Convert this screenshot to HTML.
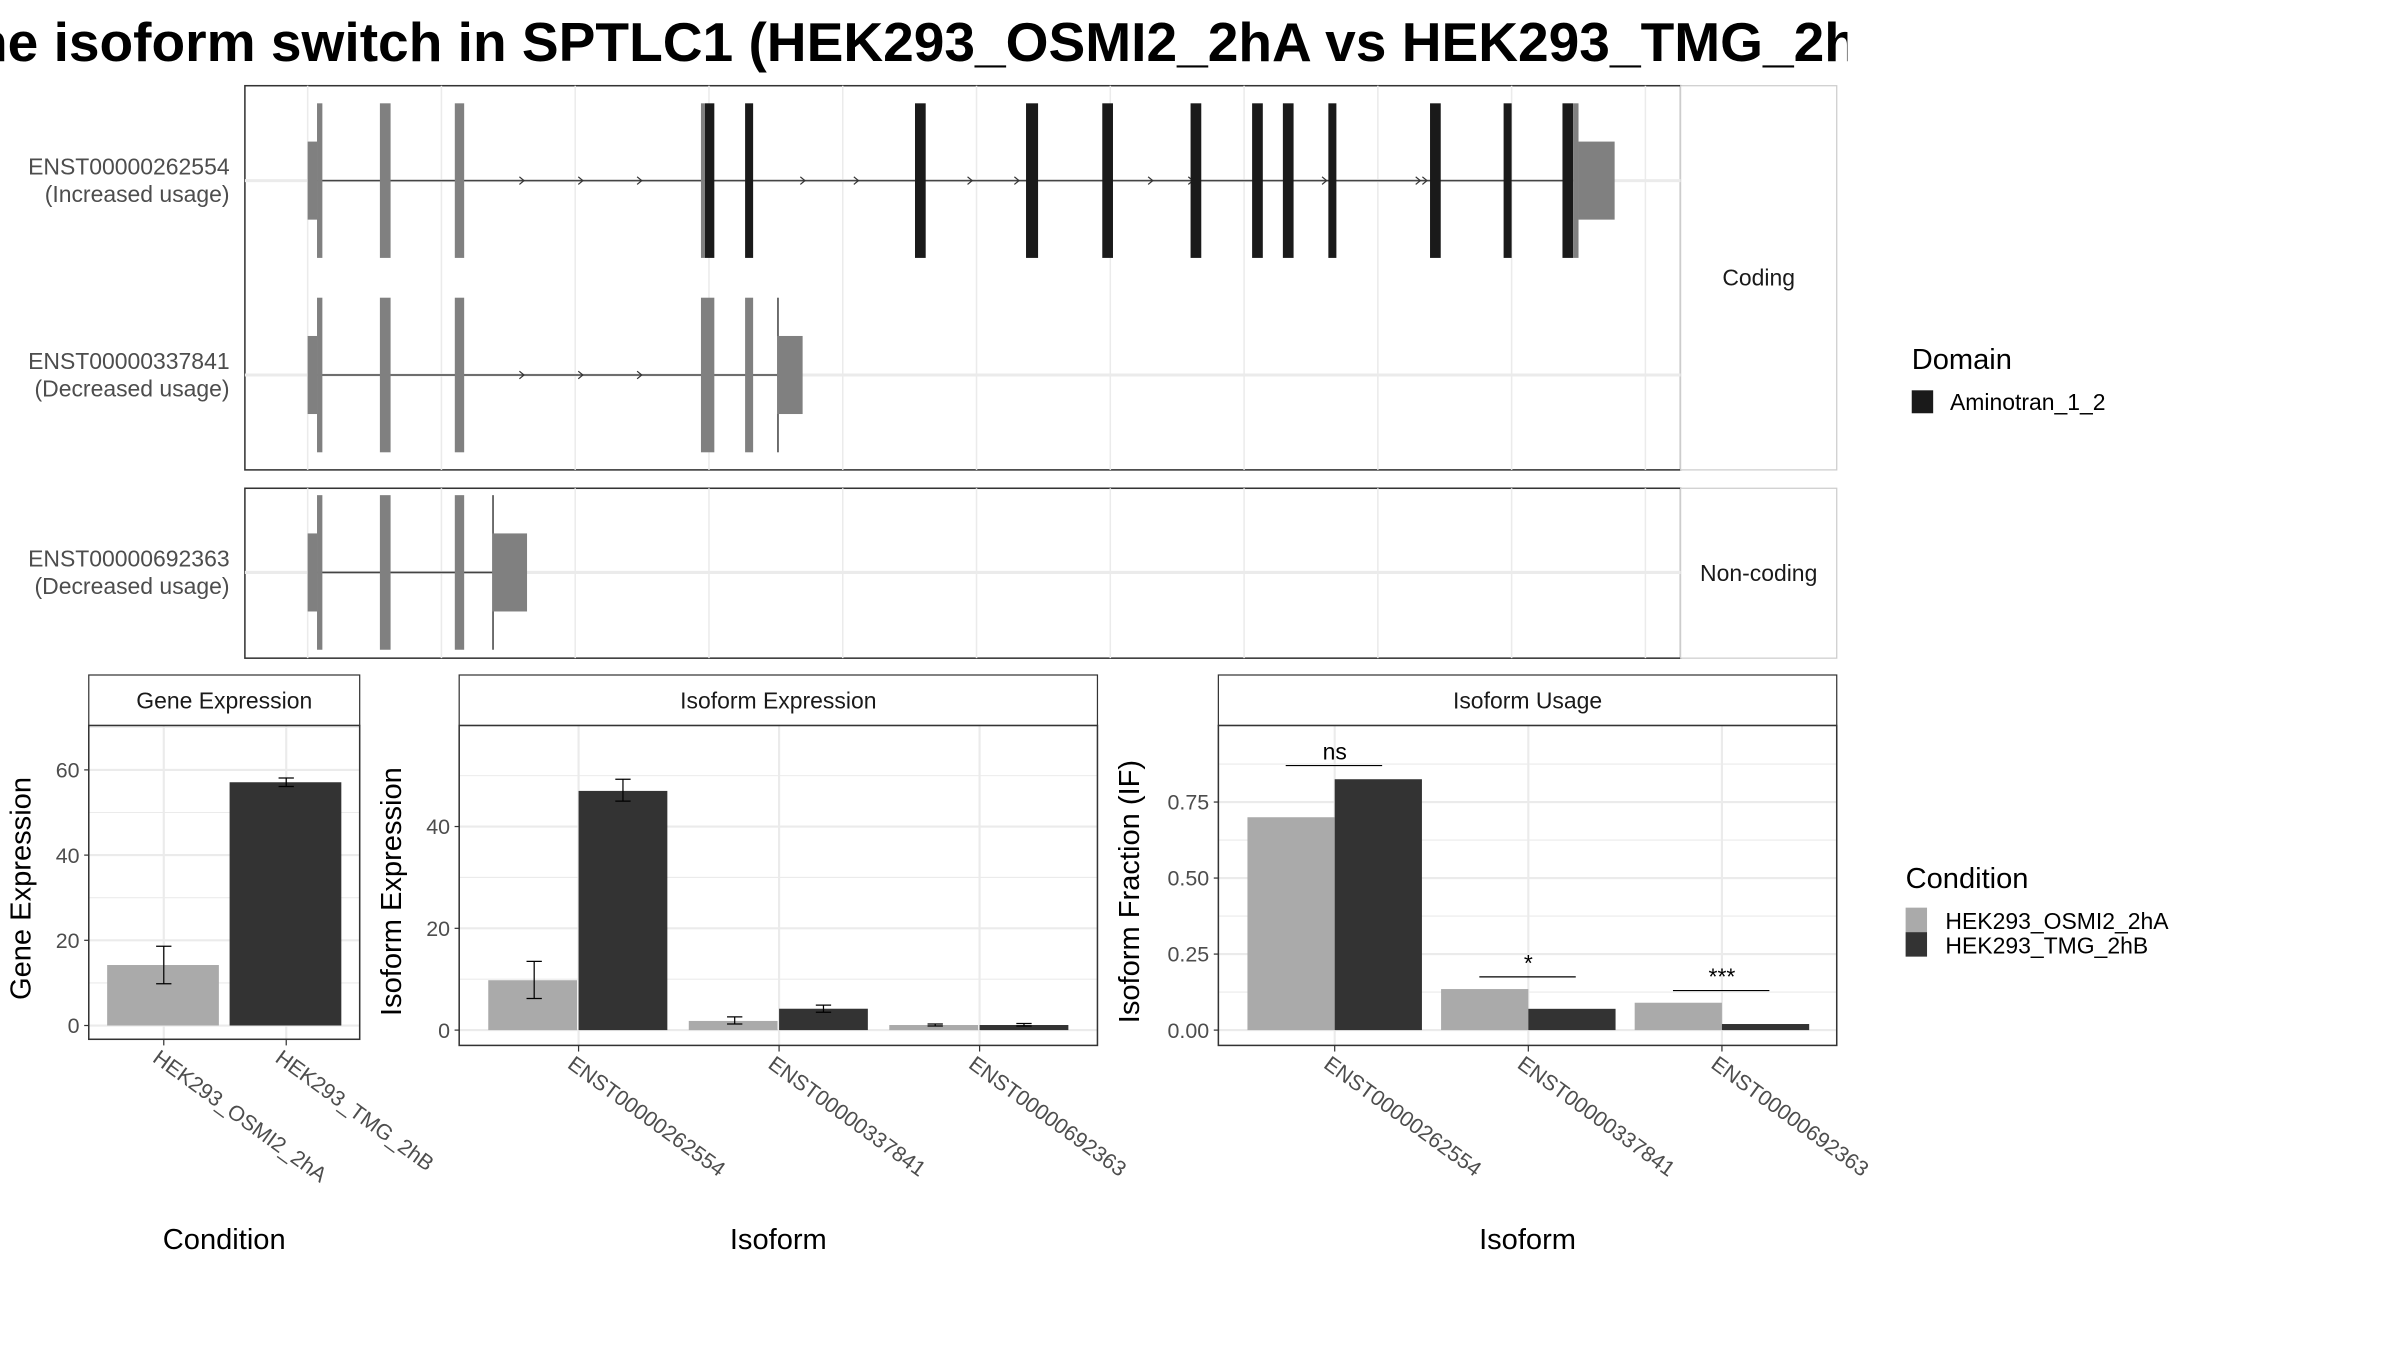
<!DOCTYPE html>
<html><head><meta charset="utf-8"><style>
html,body{margin:0;padding:0;background:#fff;}
svg{display:block;font-family:"Liberation Sans",sans-serif;}
</style></head><body>
<svg id="fig" width="2400" height="1350" viewBox="0 0 1568 882" preserveAspectRatio="none" xmlns="http://www.w3.org/2000/svg">
<defs><clipPath id="tclip"><rect x="0" y="0" width="1207" height="60"/></clipPath></defs>
<g clip-path="url(#tclip)"><text x="-39" y="40" font-size="36" font-weight="bold" fill="#000">The isoform switch in SPTLC1 (HEK293_OSMI2_2hA vs HEK293_TMG_2hB)</text></g>
<g id="topgroup"></g>
<g id="bottom"></g>
<g>
<text x="1249" y="241" font-size="19" fill="#000">Domain</text>
<rect x="1249" y="255" width="14" height="15" fill="#1a1a1a"/>
<text x="1274" y="268" font-size="15" fill="#000">Aminotran_1_2</text>
</g>
<g>
<text x="1245" y="580" font-size="19" fill="#000">Condition</text>
<rect x="1245" y="593" width="14" height="16" fill="#aaaaaa"/>
<rect x="1245" y="609" width="14" height="16" fill="#333333"/>
<text x="1271" y="607" font-size="15" fill="#000">HEK293_OSMI2_2hA</text>
<text x="1271" y="623" font-size="15" fill="#000">HEK293_TMG_2hB</text>
</g>
</svg>
<script>
// ---------- data ----------
const transcripts = ["ENST00000262554","ENST00000337841","ENST00000692363"];
const usageNotes = ["(Increased usage)","(Decreased usage)","(Decreased usage)"];
// exons: [start,end,type] type: u=UTR(half), g=gray exon, d=domain exon, l=thin line
const exons0 = [[0,0.07,"u"],[0.07,0.11,"g"],[0.54,0.62,"g"],[1.10,1.17,"g"],[2.94,2.97,"g"],[2.97,3.04,"d"],[3.27,3.33,"d"],[4.54,4.62,"d"],[5.37,5.46,"d"],[5.94,6.02,"d"],[6.60,6.68,"d"],[7.06,7.14,"d"],[7.29,7.37,"d"],[7.63,7.69,"d"],[8.39,8.47,"d"],[8.94,9.00,"d"],[9.38,9.46,"d"],[9.46,9.50,"g"],[9.50,9.77,"u"]];
const exons1 = [[0,0.07,"u"],[0.07,0.11,"g"],[0.54,0.62,"g"],[1.10,1.17,"g"],[2.94,3.04,"g"],[3.27,3.33,"g"],[3.51,3.515,"l"],[3.51,3.70,"u"]];
const exons2 = [[0,0.07,"u"],[0.07,0.11,"g"],[0.54,0.62,"g"],[1.10,1.17,"g"],[1.38,1.385,"l"],[1.38,1.64,"u"]];
const arrows0 = [1.6,2.04,2.48,3.7,4.1,4.95,5.3,6.3,6.6,7.6,8.3,8.35];
const arrows1 = [1.6,2.04,2.48];

const conditions = ["HEK293_OSMI2_2hA","HEK293_TMG_2hB"];
const geneExpr = [14.2,57.1];
const geneLo = [9.8,56.1];
const geneHi = [18.6,58.1];
const geneTicks = [0,20,40,60];

const isoExprA = [9.8,1.8,1.0];
const isoExprB = [47.0,4.2,1.0];
const isoExprALo = [6.2,1.2,0.8];
const isoExprAHi = [13.5,2.6,1.2];
const isoExprBLo = [45.0,3.5,0.8];
const isoExprBHi = [49.3,4.9,1.3];
const isoExprTicks = [0,20,40];

const ifA = [0.70,0.135,0.09];
const ifB = [0.825,0.07,0.02];
const ifTicks = [0,0.25,0.5,0.75];
const ifTickLabels = ["0.00","0.25","0.50","0.75"];
const sigLabels = ["ns","*","***"];
const sigY = [0.87,0.175,0.13];

// ---------- helpers ----------
const SVGNS="http://www.w3.org/2000/svg";
function mk(tag, attrs, parent){const e=document.createElementNS(SVGNS,tag);for(const k in attrs)e.setAttribute(k,attrs[k]);parent.appendChild(e);return e;}
const LIGHT="#aaaaaa", DARK="#333333", GRID="#ebebeb";

// ---------- transcript panels ----------
const topG=document.getElementById("topgroup");
const gx = v => 201 + 87.4*v;
function tpanel(y0,y1,label,name){
  const r=mk("rect",{x:160,y:y0,width:938,height:y1-y0,fill:"#fff",stroke:"#333","stroke-width":1},topG);
  
  
  for(let i=0;i<=10;i++){const l=mk("line",{x1:gx(i),x2:gx(i),y1:y0,y2:y1,stroke:GRID,"stroke-width":1},topG);
    
    }
  const s=mk("rect",{x:1098,y:y0,width:102,height:y1-y0,fill:"#fff",stroke:"#ccc","stroke-width":0.8},topG);
  
  
  const t=mk("text",{x:1149,y:(y0+y1)/2+5,"font-size":15,"text-anchor":"middle",fill:"#1a1a1a"},topG);t.textContent=label;
  
  
}
tpanel(56,307,"Coding","coding");
tpanel(319,430,"Non-coding","noncoding");
function drawTx(idx,cy,exons,arrows,endLine){
  const hl=mk("line",{x1:160,x2:1098,y1:cy,y2:cy,stroke:GRID,"stroke-width":2},topG);
  
  
  const il=mk("line",{x1:gx(0.07),x2:gx(endLine),y1:cy,y2:cy,stroke:"#444","stroke-width":1},topG);
  
  
  arrows.forEach(a=>{const p=mk("path",{d:`M${gx(a)-1.5},${cy-2.5} L${gx(a)+1.5},${cy} L${gx(a)-1.5},${cy+2.5}`,fill:"none",stroke:"#333","stroke-width":0.8},topG);
    
    });
  exons.forEach(e=>{
    const half=e[2]==="u", x=gx(e[0]), w=Math.max(gx(e[1])-x,1);
    const h=half?51:101;
    const fill=e[2]==="d"?"#1a1a1a":(e[2]==="l"?"#444":"#808080");
    const r=mk("rect",{x:x,y:cy-h/2,width:w,height:h,fill:fill},topG);
    
    
  });
  const t1=mk("text",{x:150,y:cy-4,"font-size":15,"text-anchor":"end",fill:"#4d4d4d"},topG);t1.textContent=transcripts[idx];
  
  
  const t2=mk("text",{x:150,y:cy+14,"font-size":15,"text-anchor":"end",fill:"#4d4d4d"},topG);t2.textContent=usageNotes[idx];
  
  
}
drawTx(0,118,exons0,arrows0,9.46);
drawTx(1,245,exons1,arrows1,3.51);
drawTx(2,374,exons2,[],1.38);

// ---------- bar panels ----------
const botG=document.getElementById("bottom");
function barPanel(o){
  const {x0,x1,yTop,yBot,y0px,ymax,ymaxPx,title,name}=o;
  const sy=v=> y0px-(v/ymax)*(y0px-ymaxPx);
  const st=mk("rect",{x:x0,y:441,width:x1-x0,height:33,fill:"#fff",stroke:"#333","stroke-width":0.8},botG);
  
  
  const tt=mk("text",{x:(x0+x1)/2,y:463,"font-size":15,"text-anchor":"middle",fill:"#1a1a1a"},botG);tt.textContent=title;
  
  
  const bg=mk("rect",{x:x0,y:yTop,width:x1-x0,height:yBot-yTop,fill:"#fff"},botG);
  
  
  const step=o.ticks[1]-o.ticks[0];
  for(let i=0;i<o.ticks.length;i++){
    const v=o.ticks[i];
    const g=mk("line",{x1:x0,x2:x1,y1:sy(v),y2:sy(v),stroke:GRID,"stroke-width":1.4},botG);
    
    
    const mv=v+step/2;
    if(sy(mv)>yTop){const m=mk("line",{x1:x0,x2:x1,y1:sy(mv),y2:sy(mv),stroke:GRID,"stroke-width":0.7},botG);
      
      }
    const tk=mk("line",{x1:x0-3,x2:x0,y1:sy(v),y2:sy(v),stroke:"#333","stroke-width":0.8},botG);
    
    
    const tl=mk("text",{x:x0-6,y:sy(v)+5,"font-size":14,"text-anchor":"end",fill:"#4d4d4d"},botG);tl.textContent=o.tickLabels[i];
    
    
  }
  o.cats.forEach((c,i)=>{
    const cx=o.catX(i);
    const g=mk("line",{x1:cx,x2:cx,y1:yTop,y2:yBot,stroke:GRID,"stroke-width":1.4},botG);
    
    
  });
  o.draw(sy);
  const fr=mk("rect",{x:x0,y:yTop,width:x1-x0,height:yBot-yTop,fill:"none",stroke:"#333","stroke-width":1},botG);
  
  
  o.cats.forEach((c,i)=>{
    const cx=o.catX(i);
    const tk=mk("line",{x1:cx,x2:cx,y1:yBot,y2:yBot+4,stroke:"#333","stroke-width":0.8},botG);
    
    
    const tl=mk("text",{x:cx-8,y:yBot+14,"font-size":14,fill:"#4d4d4d",transform:`rotate(36 ${cx-8} ${yBot+14})`},botG);tl.textContent=c;
    
    
  });
  const yc=(yTop+yBot)/2+4;
  const yt=mk("text",{x:o.yTitleX,y:yc,"font-size":19,"text-anchor":"middle",fill:"#000",transform:`rotate(-90 ${o.yTitleX} ${yc})`},botG);yt.textContent=o.yTitle;
  
  
  const xt=mk("text",{x:(x0+x1)/2,y:816,"font-size":19,"text-anchor":"middle",fill:"#000"},botG);xt.textContent=o.xTitle;
  
  
}
function bar(x,w,sy,v,fill,name){const r=mk("rect",{x:x,y:sy(v),width:w,height:sy(0)-sy(v),fill:fill},botG);
  
  }
function err(cx,sy,lo,hi){
  const g=mk("path",{d:`M${cx-5},${sy(hi)} H${cx+5} M${cx},${sy(hi)} V${sy(lo)} M${cx-5},${sy(lo)} H${cx+5}`,stroke:"#000","stroke-width":0.8,fill:"none"},botG);
  
  
}

// Gene expression
barPanel({x0:58,x1:235,yTop:474,yBot:679,y0px:670,ymax:60,ymaxPx:503,title:"Gene Expression",name:"gene-expression",
  ticks:geneTicks,tickLabels:geneTicks.map(String),cats:conditions,catX:i=>107+80*i,
  yTitle:"Gene Expression",yTitleX:20,xTitle:"Condition",
  draw:sy=>{geneExpr.forEach((v,i)=>{const cx=107+80*i;bar(cx-37,73,sy,v,i?DARK:LIGHT,'bar-gene-'+conditions[i]);err(cx,sy,geneLo[i],geneHi[i]);});}});

// Isoform expression
barPanel({x0:300,x1:717,yTop:474,yBot:683,y0px:673,ymax:40,ymaxPx:540,title:"Isoform Expression",name:"isoform-expression",
  ticks:isoExprTicks,tickLabels:isoExprTicks.map(String),cats:transcripts,catX:i=>378+131*i,
  yTitle:"Isoform Expression",yTitleX:262,xTitle:"Isoform",
  draw:sy=>{transcripts.forEach((t,i)=>{const cx=378+131*i;
    bar(cx-59,58,sy,isoExprA[i],LIGHT,'bar-expr-a-'+t);bar(cx,58,sy,isoExprB[i],DARK,'bar-expr-b-'+t);
    err(cx-29,sy,isoExprALo[i],isoExprAHi[i]);err(cx+29,sy,isoExprBLo[i],isoExprBHi[i]);});}});

// Isoform usage
barPanel({x0:796,x1:1200,yTop:474,yBot:683,y0px:673,ymax:0.75,ymaxPx:524,title:"Isoform Usage",name:"isoform-usage",
  ticks:ifTicks,tickLabels:ifTickLabels,cats:transcripts,catX:i=>872+126.5*i,
  yTitle:"Isoform Fraction (IF)",yTitleX:744,xTitle:"Isoform",
  draw:sy=>{transcripts.forEach((t,i)=>{const cx=872+126.5*i;
    bar(cx-57,57,sy,ifA[i],LIGHT,'bar-if-a-'+t);bar(cx,57,sy,ifB[i],DARK,'bar-if-b-'+t);
    const l=mk("line",{x1:cx-32,x2:cx+31,y1:sy(sigY[i]),y2:sy(sigY[i]),stroke:"#000","stroke-width":0.8},botG);
    
    
    const s=mk("text",{x:cx,y:sy(sigY[i])-4,"font-size":15,"text-anchor":"middle",fill:"#000"},botG);s.textContent=sigLabels[i];
    
    });}});
</script>
</body></html>
